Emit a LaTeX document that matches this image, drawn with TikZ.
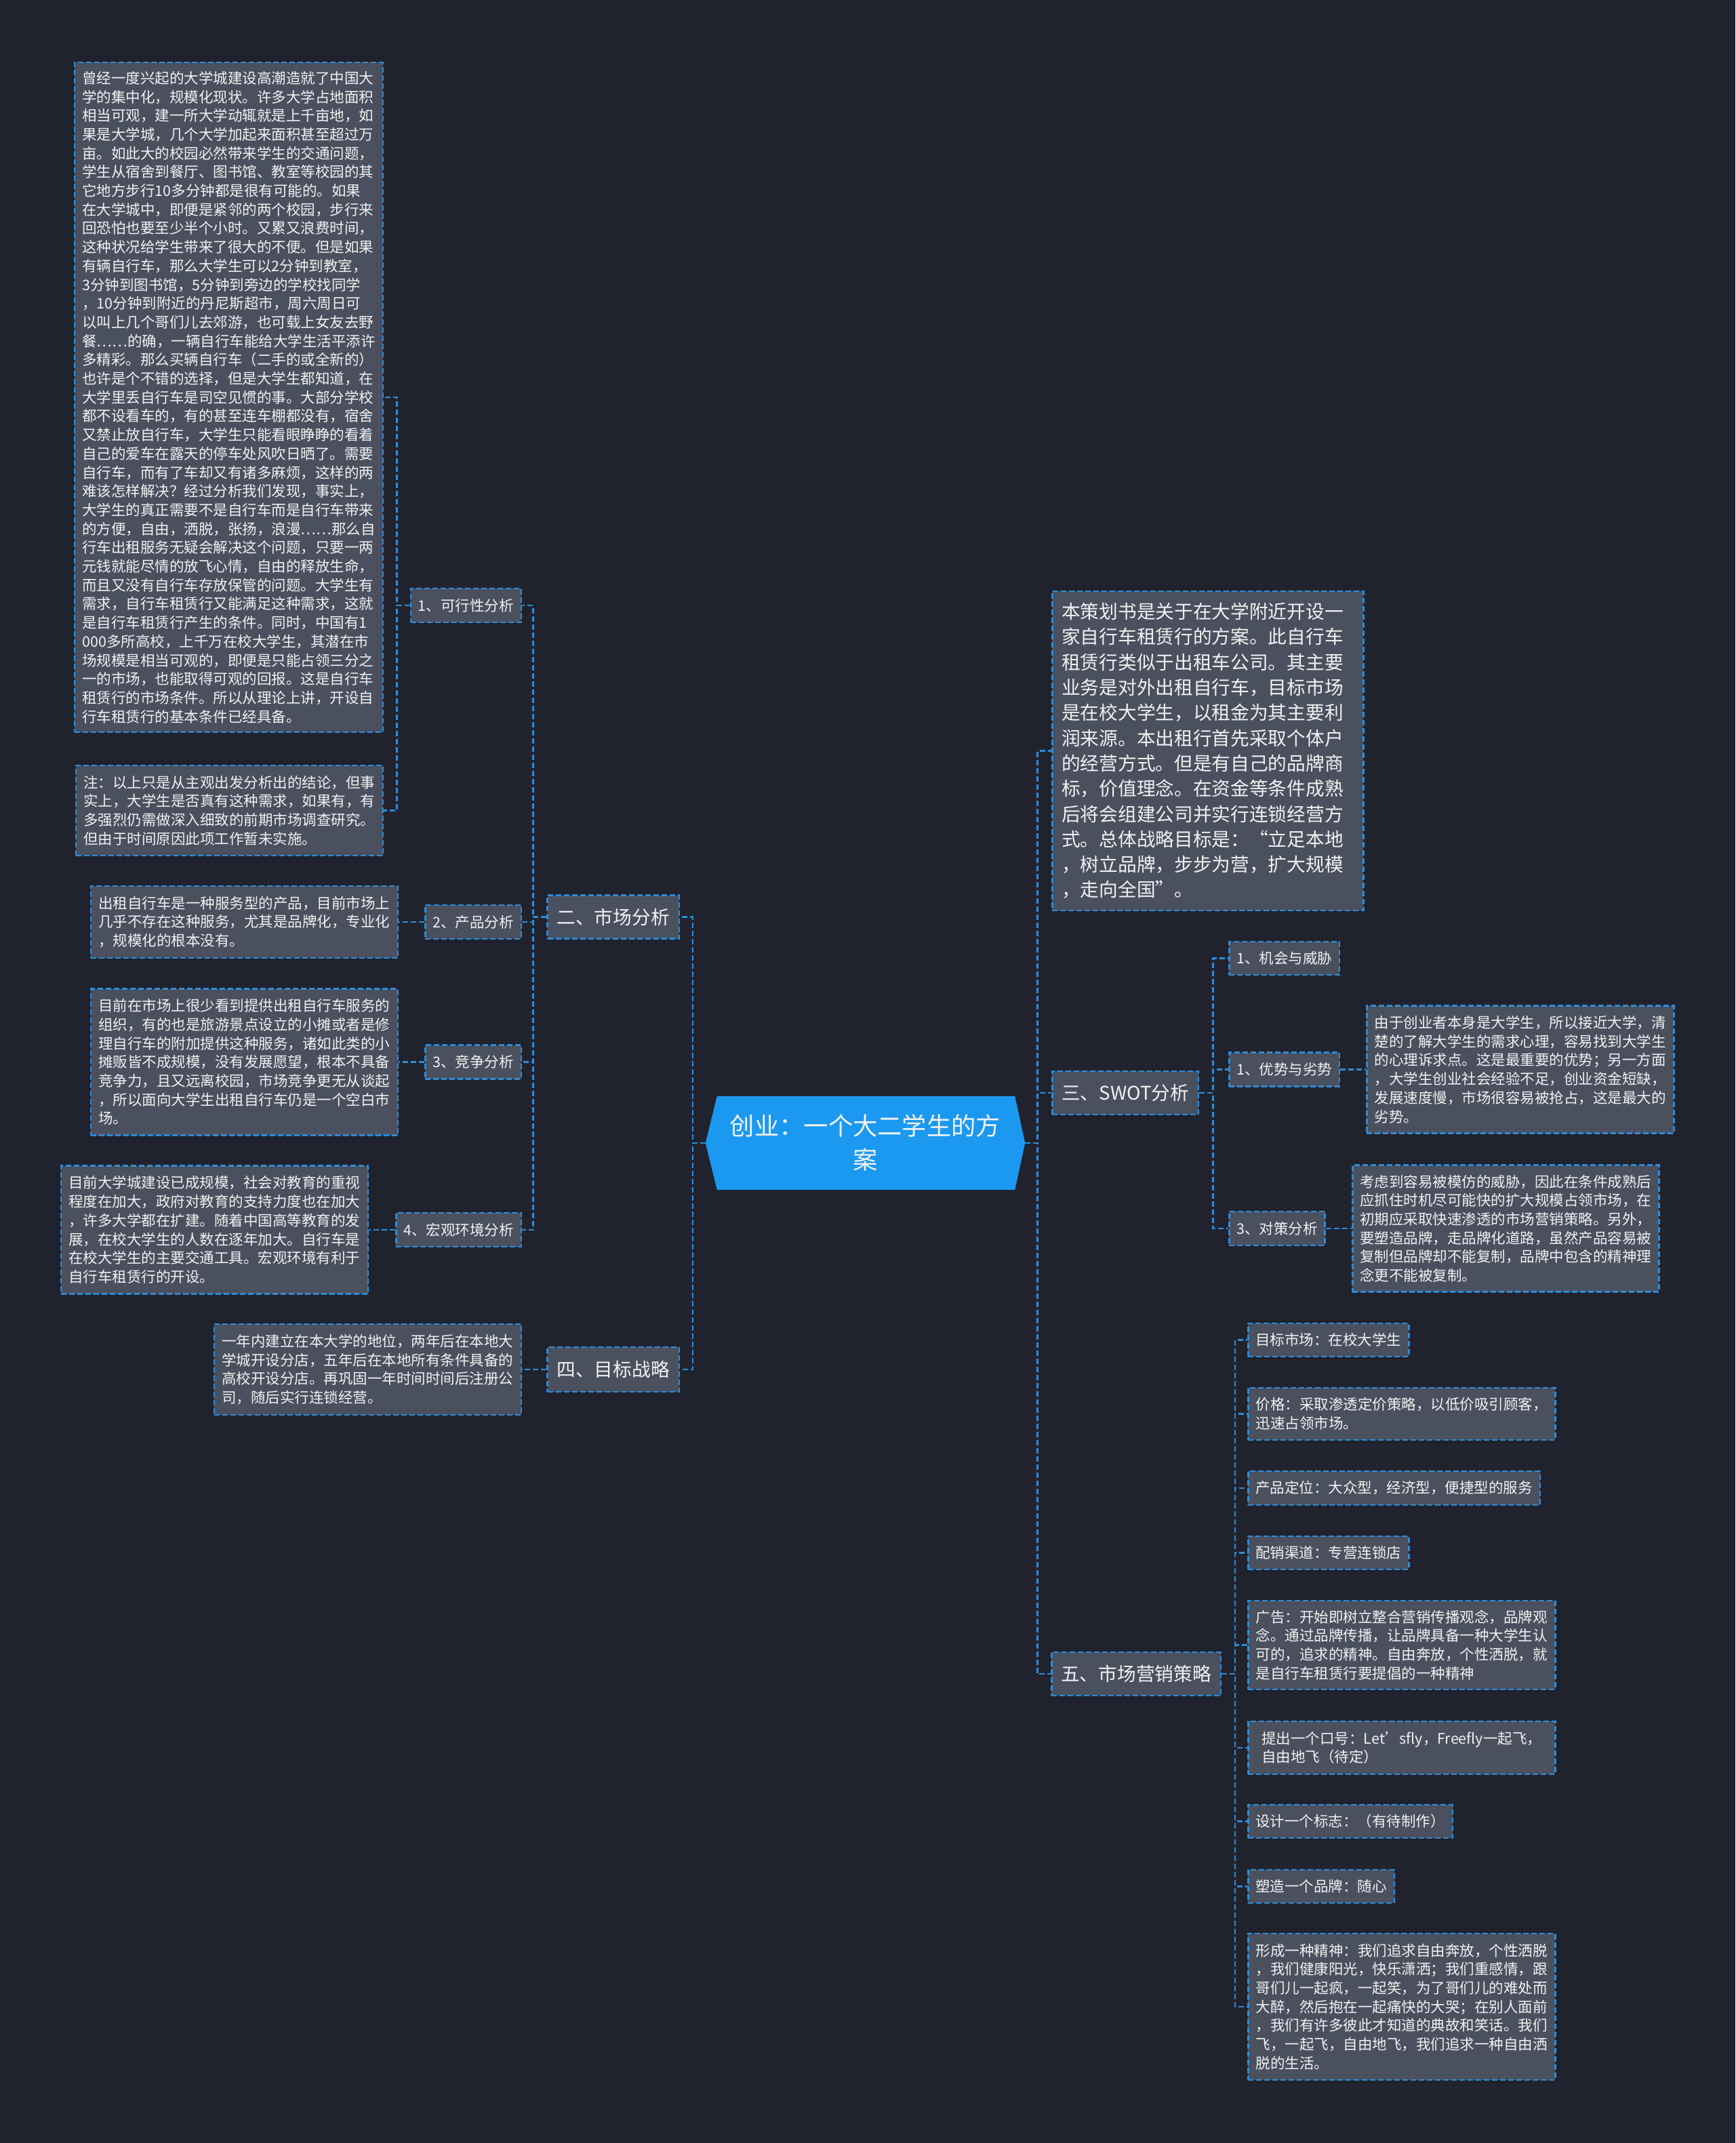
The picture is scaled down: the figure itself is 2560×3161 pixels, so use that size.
\documentclass[tikz,border=0pt]{standalone}
\usepackage{fontspec}
\setmainfont{Noto Sans CJK SC}
\usetikzlibrary{backgrounds}
\definecolor{bgc}{RGB}{32,35,46}
\definecolor{boxfill}{RGB}{74,80,94}
\definecolor{lineblue}{RGB}{44,140,218}
\definecolor{cfill}{RGB}{27,153,240}
\definecolor{txt}{RGB}{242,242,242}
\begin{document}
\begin{tikzpicture}[x=1pt,y=-1pt,
  dsh/.style={dash pattern=on 8pt off 4pt, line width=2.5pt, draw=lineblue},
  box/.style={dsh, fill=boxfill, text=txt, inner xsep=11pt, inner ysep=4pt, align=left},
  fs/.style={font=\fontsize{21.5}{27.7}\selectfont},
  fm/.style={font=\fontsize{27.7}{37.3}\selectfont},
  lvl/.style={box, fm, inner xsep=14pt, minimum height=64pt},
  sub/.style={box, fs, minimum height=50pt},
  conn/.style={dsh}]
\useasboundingbox (0,0) rectangle (2560,3161);

% center
\node[font=\fontsize{36.3}{50}\selectfont, text=txt, align=center, minimum width=471pt, minimum height=138pt, inner sep=0pt] (C) at (1276.5,1686) {创业：一个大二学生的方\\案};

% left side
\node[lvl, anchor=east] (N2) at (1003,1352.5) {二、市场分析};
\node[lvl, anchor=east, minimum height=66pt] (N4) at (1003,2020) {四、目标战略};

\node[sub, anchor=east] (K1) at (770,893) {1、可行性分析};
\node[sub, anchor=east] (K2) at (770,1360) {2、产品分析};
\node[sub, anchor=east] (K3) at (770,1566.5) {3、竞争分析};
\node[sub, anchor=east] (K4) at (770,1814) {4、宏观环境分析};

\node[box, fs, anchor=east, minimum width=453pt, minimum height=988pt] (A) at (566,586) {曾经一度兴起的大学城建设高潮造就了中国大\\学的集中化，规模化现状。许多大学占地面积\\相当可观，建一所大学动辄就是上千亩地，如\\果是大学城，几个大学加起来面积甚至超过万\\亩。如此大的校园必然带来学生的交通问题，\\学生从宿舍到餐厅、图书馆、教室等校园的其\\它地方步行10多分钟都是很有可能的。如果\\在大学城中，即便是紧邻的两个校园，步行来\\回恐怕也要至少半个小时。又累又浪费时间，\\这种状况给学生带来了很大的不便。但是如果\\有辆自行车，那么大学生可以2分钟到教室，\\3分钟到图书馆，5分钟到旁边的学校找同学\\，10分钟到附近的丹尼斯超市，周六周日可\\以叫上几个哥们儿去郊游，也可载上女友去野\\餐……的确，一辆自行车能给大学生活平添许\\多精彩。那么买辆自行车（二手的或全新的）\\也许是个不错的选择，但是大学生都知道，在\\大学里丢自行车是司空见惯的事。大部分学校\\都不设看车的，有的甚至连车棚都没有，宿舍\\又禁止放自行车，大学生只能看眼睁睁的看着\\自己的爱车在露天的停车处风吹日晒了。需要\\自行车，而有了车却又有诸多麻烦，这样的两\\难该怎样解决？经过分析我们发现，事实上，\\大学生的真正需要不是自行车而是自行车带来\\的方便，自由，洒脱，张扬，浪漫……那么自\\行车出租服务无疑会解决这个问题，只要一两\\元钱就能尽情的放飞心情，自由的释放生命，\\而且又没有自行车存放保管的问题。大学生有\\需求，自行车租赁行又能满足这种需求，这就\\是自行车租赁行产生的条件。同时，中国有1\\000多所高校，上千万在校大学生，其潜在市\\场规模是相当可观的，即便是只能占领三分之\\一的市场，也能取得可观的回报。这是自行车\\租赁行的市场条件。所以从理论上讲，开设自\\行车租赁行的基本条件已经具备。};

\node[box, fs, anchor=east, minimum width=453pt, minimum height=133pt] (NT) at (566,1195.5) {注：以上只是从主观出发分析出的结论，但事\\实上，大学生是否真有这种需求，如果有，有\\多强烈仍需做深入细致的前期市场调查研究。\\但由于时间原因此项工作暂未实施。};

\node[box, fs, anchor=east, minimum width=453pt, minimum height=106pt] (K2c) at (588,1360) {出租自行车是一种服务型的产品，目前市场上\\几乎不存在这种服务，尤其是品牌化，专业化\\，规模化的根本没有。};

\node[box, fs, anchor=east, minimum width=453pt, minimum height=216pt] (K3c) at (588,1566.5) {目前在市场上很少看到提供出租自行车服务的\\组织，有的也是旅游景点设立的小摊或者是修\\理自行车的附加提供这种服务，诸如此类的小\\摊贩皆不成规模，没有发展愿望，根本不具备\\竞争力，且又远离校园，市场竞争更无从谈起\\，所以面向大学生出租自行车仍是一个空白市\\场。};

\node[box, fs, anchor=east, minimum width=453pt, minimum height=189pt] (K4c) at (544,1814) {目前大学城建设已成规模，社会对教育的重视\\程度在加大，政府对教育的支持力度也在加大\\，许多大学都在扩建。随着中国高等教育的发\\展，在校大学生的人数在逐年加大。自行车是\\在校大学生的主要交通工具。宏观环境有利于\\自行车租赁行的开设。};

\node[box, fs, anchor=east, minimum width=453pt, minimum height=134pt] (N4c) at (770,2020) {一年内建立在本大学的地位，两年后在本地大\\学城开设分店，五年后在本地所有条件具备的\\高校开设分店。再巩固一年时间时间后注册公\\司，随后实行连锁经营。};

% right side
\node[box, fm, anchor=west, inner xsep=14pt, text width=431pt, minimum height=471pt] (B) at (1551,1107.5) {本策划书是关于在大学附近开设一\\家自行车租赁行的方案。此自行车\\租赁行类似于出租车公司。其主要\\业务是对外出租自行车，目标市场\\是在校大学生，以租金为其主要利\\润来源。本出租行首先采取个体户\\的经营方式。但是有自己的品牌商\\标，价值理念。在资金等条件成熟\\后将会组建公司并实行连锁经营方\\式。总体战略目标是：“立足本地\\，树立品牌，步步为营，扩大规模\\，走向全国”。};

\node[lvl, anchor=west] (N3) at (1551,1612) {三、SWOT分析};
\node[lvl, anchor=west] (N5) at (1550,2469) {五、市场营销策略};

\node[sub, anchor=west, minimum height=49pt] (S1) at (1812,1413.5) {1、机会与威胁};
\node[sub, anchor=west] (S2) at (1812,1577.5) {1、优势与劣势};
\node[sub, anchor=west] (S3) at (1812,1812) {3、对策分析};

\node[box, fs, anchor=west, minimum width=453pt, minimum height=188pt] (S2c) at (2015,1577.5) {由于创业者本身是大学生，所以接近大学，清\\楚的了解大学生的需求心理，容易找到大学生\\的心理诉求点。这是最重要的优势；另一方面\\，大学生创业社会经验不足，创业资金短缺，\\发展速度慢，市场很容易被抢占，这是最大的\\劣势。};

\node[box, fs, anchor=west, minimum width=452pt, minimum height=187pt] (S3c) at (1994,1812) {考虑到容易被模仿的威胁，因此在条件成熟后\\应抓住时机尽可能快的扩大规模占领市场，在\\初期应采取快速渗透的市场营销策略。另外，\\要塑造品牌，走品牌化道路，虽然产品容易被\\复制但品牌却不能复制，品牌中包含的精神理\\念更不能被复制。};

\node[sub, anchor=west, minimum height=49pt] (M1) at (1840,1976.5) {目标市场：在校大学生};
\node[box, fs, anchor=west, minimum width=453pt, minimum height=77pt] (M2) at (1840,2085.5) {价格：采取渗透定价策略，以低价吸引顾客，\\迅速占领市场。};
\node[sub, anchor=west] (M3) at (1840,2195) {产品定位：大众型，经济型，便捷型的服务};
\node[sub, anchor=west, minimum height=49pt] (M4) at (1840,2290.5) {配销渠道：专营连锁店};
\node[box, fs, anchor=west, minimum width=453pt, minimum height=131pt] (M5) at (1840,2426.5) {广告：开始即树立整合营销传播观念，品牌观\\念。通过品牌传播，让品牌具备一种大学生认\\可的，追求的精神。自由奔放，个性洒脱，就\\是自行车租赁行要提倡的一种精神};
\node[box, fs, anchor=west, minimum width=453pt, minimum height=78pt] (M6) at (1840,2578) {提出一个口号：Let’sfly，Freefly一起飞，\\自由地飞（待定）};
\node[sub, anchor=west, minimum height=49pt] (M7) at (1840,2686.5) {设计一个标志：（有待制作）};
\node[sub, anchor=west, minimum height=49pt] (M8) at (1840,2782.5) {塑造一个品牌：随心};
\node[box, fs, anchor=west, minimum width=453pt, minimum height=216pt] (M9) at (1840,2960) {形成一种精神：我们追求自由奔放，个性洒脱\\，我们健康阳光，快乐潇洒；我们重感情，跟\\哥们儿一起疯，一起笑，为了哥们儿的难处而\\大醉，然后抱在一起痛快的大哭；在别人面前\\，我们有许多彼此才知道的典故和笑话。我们\\飞，一起飞，自由地飞，我们追求一种自由洒\\脱的生活。};

% background and center shape
\begin{scope}[on background layer]
  \fill[bgc] (0,0) rectangle (2560,3161);
  \fill[cfill] ([xshift=17pt]C.north west) -- ([xshift=-15pt]C.north east) -- (C.east) -- ([xshift=-15pt]C.south east) -- ([xshift=17pt]C.south west) -- (C.west) -- cycle;
\end{scope}

% connectors left
\foreach \n in {N2,N4} \draw[conn] (C.west) -- ++(-19,0) |- (\n.east);
\foreach \n in {K1,K2,K3,K4} \draw[conn] (N2.west) -- ++(-20,0) |- (\n.east);
\foreach \n in {A,NT} \draw[conn] (K1.west) -- ++(-19,0) |- (\n.east);
\draw[conn] (K2.west) -- (K2c.east);
\draw[conn] (K3.west) -- (K3c.east);
\draw[conn] (K4.west) -- (K4c.east);
\draw[conn] (N4.west) -- (N4c.east);

% connectors right
\foreach \n in {B,N3,N5} \draw[conn] (C.east) -- ++(18.5,0) |- (\n.west);
\foreach \n in {S1,S2,S3} \draw[conn] (N3.east) -- ++(20,0) |- (\n.west);
\draw[conn] (S2.east) -- (S2c.west);
\draw[conn] (S3.east) -- (S3c.west);
\foreach \n in {M1,M2,M3,M4,M5,M6,M7,M8,M9} \draw[conn] (N5.east) -- ++(20,0) |- (\n.west);
\end{tikzpicture}
\end{document}
